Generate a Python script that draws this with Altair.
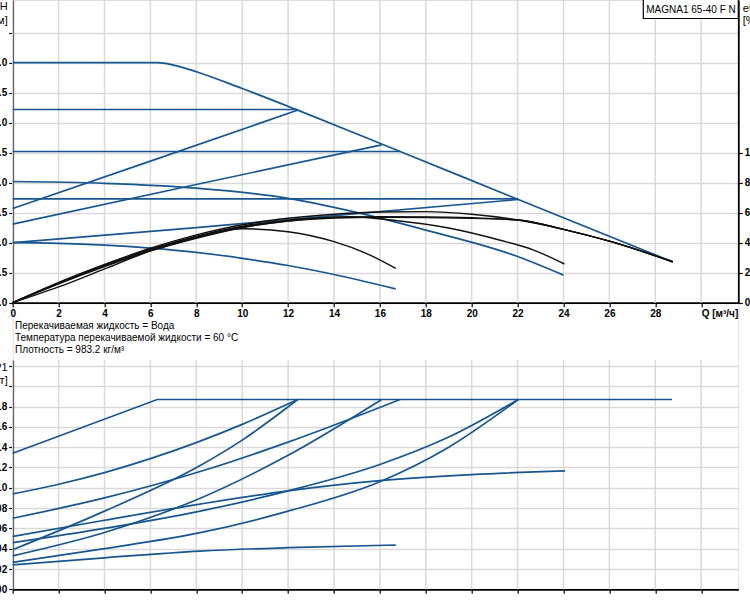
import altair as alt
import pandas as pd

# ---------------- data ----------------
Q_TICKS = list(range(0, 31, 2))
H_TICKS = [0, 0.5, 1.0, 1.5, 2.0, 2.5, 3.0, 3.5, 4.0, 4.5]
ETA_TICKS = [0, 20, 40, 60, 80, 100]
P_TICKS = [0, 0.02, 0.04, 0.06, 0.08, 0.10, 0.12, 0.14, 0.16, 0.18, 0.20, 0.22]

# Head curves H [m] vs Q [m3/h]
H_MAX_Q = [0, 6.3, 7, 8, 10, 12.42, 16.88, 22.03, 28.76]
H_MAX_V = [4.0, 4.0, 3.96, 3.85, 3.57, 3.21, 2.52, 1.72, 0.68]
H_CP3_Q = [0, 12.42]
H_CP3_V = [3.22, 3.22]
H_PP3_Q = [0, 6, 12.42]
H_PP3_V = [1.57, 2.36, 3.21]
H_CP2_Q = [0, 16.88]
H_CP2_V = [2.52, 2.52]
H_PP2_Q = [0, 8, 16.08]
H_PP2_V = [1.31, 1.97, 2.63]
H_CC2_Q = [0, 4, 8, 12, 14.7, 18, 22, 24]
H_CC2_V = [2.02, 1.99, 1.91, 1.74, 1.53, 1.21, 0.77, 0.46]
H_CP1_Q = [0, 22.03]
H_CP1_V = [1.73, 1.73]
H_PP1_Q = [0, 8, 22.03]
H_PP1_V = [1.0, 1.25, 1.72]
H_CC1_Q = [0, 2, 4, 6, 8, 10, 12, 14, 16.69]
H_CC1_V = [1.0, 0.99, 0.96, 0.91, 0.84, 0.74, 0.62, 0.47, 0.23]

# Efficiency curves eta [%]
E1_Q = [0, 2, 4, 6, 8, 10, 12, 14, 16, 18, 20, 22.03, 24, 26, 28.76]
E1_V = [0, 13.5, 25.5, 36.3, 45.2, 52, 56.3, 59, 60.5, 60.7, 59, 55.1, 48.9, 41, 27.3]
E2_Q = [0, 2, 4, 6, 8, 10, 12, 14, 16, 18, 20, 22.03, 24, 26, 28.76]
E2_V = [0, 13, 25, 35.5, 44.3, 51, 55, 56.8, 57.3, 57.2, 56.6, 55.1, 48.9, 41, 27.3]
E3_Q = [0, 2, 4, 6, 8, 10, 12, 14, 16, 18, 20, 22.03, 24, 26, 28.76]
E3_V = [0, 12.8, 24.5, 35, 43.5, 50.3, 54.5, 56.5, 57, 56.8, 56.2, 55.1, 48.9, 41, 27.3]
E4_Q = [0, 2, 4, 6, 8, 10, 12, 14.7, 16.5, 19.05, 21.2, 22.7, 24.04]
E4_V = [0, 12.5, 24, 34.5, 43, 50, 54.5, 57.3, 55.1, 49.6, 41.8, 35.1, 25.8]
E5_Q = [0, 2, 4, 6, 8, 9, 10, 12, 14, 15.4, 16.69]
E5_V = [0, 10.5, 22.5, 34.5, 43.5, 47.5, 49.3, 47.3, 40.7, 32.9, 22.9]

# Power curves P1 [kW]
P_MAX_Q = [0, 6.3, 28.73]
P_MAX_V = [0.134, 0.187, 0.187]
P_CP3_Q = [0, 2, 4, 6, 8.17, 10, 12.42]
P_CP3_V = [0.094, 0.1035, 0.115, 0.1287, 0.146, 0.1625, 0.187]
P_PP3_Q = [0, 4, 8.17, 10, 12.42]
P_PP3_V = [0.039, 0.077, 0.122, 0.147, 0.187]
P_CP2_Q = [0, 4, 8.17, 12, 16.88]
P_CP2_V = [0.070, 0.090, 0.116, 0.145, 0.187]
P_PP2_Q = [0, 4, 8.17, 12, 16.08]
P_PP2_V = [0.033, 0.056, 0.0897, 0.132, 0.187]
P_CC2_Q = [0, 4, 8.17, 12, 16, 20, 24.07]
P_CC2_V = [0.052, 0.068, 0.084, 0.097, 0.107, 0.113, 0.1166]
P_CP1_Q = [0, 4, 8.17, 12, 16, 19, 22.03]
P_CP1_V = [0.046, 0.060, 0.0771, 0.097, 0.123, 0.150, 0.187]
P_PP1_Q = [0, 4, 8.17, 12, 16, 19, 22.03]
P_PP1_V = [0.0266, 0.040, 0.0558, 0.077, 0.106, 0.140, 0.187]
P_CC1_Q = [0, 4, 8.17, 12, 16.69]
P_CC1_V = [0.024, 0.031, 0.0377, 0.041, 0.0436]

NOTE = ("Перекачиваемая жидкость = Вода\n"
        "Температура перекачиваемой жидкости = 60 °C\n"
        "Плотность = 983.2 кг/м³")
MODEL = "MAGNA1 65-40 F N"


def build(series, col):
    rows = []
    for name, qs, vs in series:
        for i, (q, v) in enumerate(zip(qs, vs)):
            rows.append({"series": name, "Q": q, col: v, "i": i})
    return pd.DataFrame(rows)


h_df = build([
    ("max", H_MAX_Q, H_MAX_V), ("cp3", H_CP3_Q, H_CP3_V), ("pp3", H_PP3_Q, H_PP3_V),
    ("cp2", H_CP2_Q, H_CP2_V), ("pp2", H_PP2_Q, H_PP2_V), ("cc2", H_CC2_Q, H_CC2_V),
    ("cp1", H_CP1_Q, H_CP1_V), ("pp1", H_PP1_Q, H_PP1_V), ("cc1", H_CC1_Q, H_CC1_V),
], "H")
e_df = build([
    ("e1", E1_Q, E1_V), ("e2", E2_Q, E2_V), ("e3", E3_Q, E3_V),
    ("e4", E4_Q, E4_V), ("e5", E5_Q, E5_V),
], "eta")
p_df = build([
    ("cp3", P_CP3_Q, P_CP3_V), ("pp3", P_PP3_Q, P_PP3_V),
    ("cp2", P_CP2_Q, P_CP2_V), ("pp2", P_PP2_Q, P_PP2_V), ("cc2", P_CC2_Q, P_CC2_V),
    ("cp1", P_CP1_Q, P_CP1_V), ("pp1", P_PP1_Q, P_PP1_V), ("cc1", P_CC1_Q, P_CC1_V),
], "P")
pmax_df = build([("max", P_MAX_Q, P_MAX_V)], "P")
grid_df = pd.DataFrame({"Q": Q_TICKS})

# ---------------- styling / layout ----------------
W = 725.6
TOP_AX = 302.7
BOT_TOP = 360.0
BOT_AX = 589.3
BLUE = "#17568f"
BLACK = "#111111"
GRID = "#d9d9d9"
FONT = "Liberation Sans"
Q_MAX = W / 22.95
H_MAX = TOP_AX / 60.0
ETA_MAX = TOP_AX / 1.5
P_MAX = (BOT_AX - BOT_TOP) / 1015.0


def xscale():
    return alt.Scale(domain=[0, Q_MAX], range=[0, W], nice=False, zero=False)


def pscale():
    return alt.Scale(domain=[0, P_MAX], range=[BOT_AX, BOT_TOP], nice=False, zero=False)


axis_common = dict(
    domainColor="black", domainWidth=1.8, tickColor="black", tickSize=4, tickWidth=1.2,
    labelFont=FONT, labelFontSize=10, labelFontWeight="bold", labelColor="black",
    labelPadding=2, labelFlush=False, labelOverlap=False,
    titleFont=FONT, titleFontSize=11, titleFontWeight="normal", titleColor="black",
    gridColor=GRID, gridWidth=1.5,
)

vgrid_top = alt.Chart(grid_df).mark_rule(color=GRID, strokeWidth=1.5).encode(
    x=alt.X("Q:Q", scale=xscale(), axis=alt.Axis(
        orient="bottom", offset=-(BOT_AX - TOP_AX), values=Q_TICKS, grid=False, title=None,
        labelExpr="datum.value == 30 ? 'Q [м³/ч]' : datum.label",
        labelAlign={"condition": {"test": "datum.value == 30", "value": "left"}, "value": "center"},
        **axis_common)),
    y=alt.value(0), y2=alt.value(TOP_AX),
)

vgrid_bot = alt.Chart(grid_df).mark_rule(color=GRID, strokeWidth=1.5).encode(
    x=alt.X("Q:Q", scale=xscale(), axis=alt.Axis(
        orient="bottom", values=Q_TICKS, grid=False, title=None, labels=False, **axis_common)),
    y=alt.value(BOT_TOP), y2=alt.value(BOT_AX),
)

h_lines = alt.Chart(h_df).mark_line(color=BLUE, strokeWidth=1.7, interpolate="monotone").encode(
    x=alt.X("Q:Q", scale=xscale(), axis=None),
    y=alt.Y("H:Q", scale=alt.Scale(domain=[0, H_MAX], range=[TOP_AX, 0], nice=False, zero=False),
            axis=alt.Axis(orient="left", values=H_TICKS, format=".1f", grid=True,
                          labelExpr="datum.value > 4.2 ? '' : datum.label",
                          title=["H", "[м]"], titleAngle=0, titleAlign="right",
                          titleBaseline="top", titleX=-5.5, titleY=0, titleLineHeight=14,
                          **axis_common)),
    detail="series:N", order="i:Q",
)

e_lines = alt.Chart(e_df).mark_line(color=BLACK, strokeWidth=1.4, interpolate="monotone").encode(
    x=alt.X("Q:Q", scale=xscale(), axis=None),
    y=alt.Y("eta:Q", scale=alt.Scale(domain=[0, ETA_MAX], range=[TOP_AX, 0], nice=False, zero=False),
            axis=alt.Axis(orient="right", values=ETA_TICKS, grid=False,
                          title=["eta", "[%]"], titleAngle=0, titleAlign="left",
                          titleBaseline="top", titleX=4, titleY=2, titleLineHeight=12,
                          **axis_common)),
    detail="series:N", order="i:Q",
)

p_lines = alt.Chart(p_df).mark_line(color=BLUE, strokeWidth=1.7, interpolate="monotone").encode(
    x=alt.X("Q:Q", scale=xscale(), axis=None),
    y=alt.Y("P:Q", scale=pscale(),
            axis=alt.Axis(orient="left", values=P_TICKS, format=".2f", grid=True,
                          labelExpr="datum.value > 0.19 ? '' : datum.label",
                          title=["P1", "[кВт]"], titleAngle=0, titleAlign="right",
                          titleBaseline="top", titleX=-5.5, titleY=BOT_TOP + 1, titleLineHeight=13,
                          **axis_common)),
    detail="series:N", order="i:Q",
)

pmax_line = alt.Chart(pmax_df).mark_line(color=BLUE, strokeWidth=1.7).encode(
    x=alt.X("Q:Q", scale=xscale(), axis=None),
    y=alt.Y("P:Q", scale=pscale(), axis=None),
    order="i:Q",
)

note = alt.Chart(pd.DataFrame({"t": [NOTE]})).mark_text(
    align="left", baseline="top", font=FONT, fontSize=10, lineBreak="\n", lineHeight=12.4,
    color="black",
).encode(x=alt.value(2.3), y=alt.value(320.5), text="t:N")

box = alt.Chart(pd.DataFrame({"t": [MODEL]})).mark_rect(
    fill="white", stroke="black", strokeWidth=1.2,
).encode(x=alt.value(630.6), x2=alt.value(W), y=alt.value(-1), y2=alt.value(18.5))

box_text = alt.Chart(pd.DataFrame({"t": [MODEL]})).mark_text(
    align="center", baseline="middle", font=FONT, fontSize=10, color="black",
).encode(x=alt.value(678.3), y=alt.value(9.5), text="t:N")

chart = alt.layer(
    vgrid_top, vgrid_bot, h_lines, e_lines, p_lines, pmax_line, note, box, box_text,
).resolve_scale(x="independent", y="independent").properties(
    width=W, height=BOT_AX,
    autosize=alt.AutoSizeParams(type="none"),
    padding={"left": 12.7, "right": 11.7, "top": 0, "bottom": 10.7},
).configure_view(stroke=None).configure(background="white")

chart.save("out.html", embed_options={"renderer": "svg", "actions": False})
